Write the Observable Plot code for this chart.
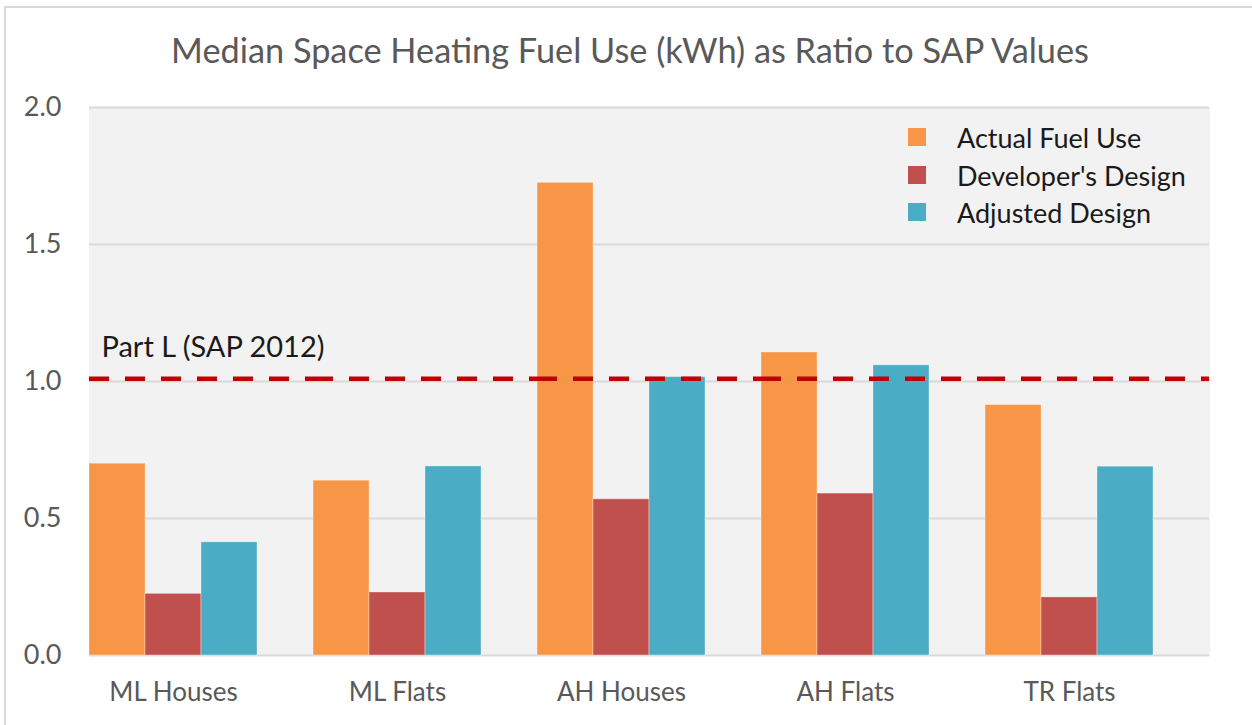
<!DOCTYPE html>
<html>
<head>
<meta charset="utf-8">
<script src="https://cdn.jsdelivr.net/npm/d3@7"></script>
<script src="https://cdn.jsdelivr.net/npm/@observablehq/plot@0.6"></script>
<style>
  html, body { margin: 0; padding: 0; background: #fff; }
  #chart { position: relative; width: 1252px; height: 725px; overflow: hidden; font-family: Lato, sans-serif; }
  #border { position: absolute; left: 4px; top: 6px; right: -10px; bottom: -10px; border-top: 2px solid #d9d9d9; border-left: 2px solid #d9d9d9; pointer-events: none; }
  #title { position: absolute; left: 0; width: 1260px; top: 33px; text-align: center; font-size: 34.3px; line-height: 34px; color: #595959; white-space: nowrap; }
  #legend { position: absolute; left: 908px; top: 128px; }
  .row { position: relative; height: 37.5px; }
  .sw { position: absolute; left: 0; top: 0; width: 18px; height: 18px; }
  .lab { position: absolute; left: 49px; top: -5px; font-size: 27px; line-height: 30px; color: #1a1a1a; white-space: nowrap; }
  svg { position: absolute; left: 0; top: 0; }
</style>
</head>
<body>
<div id="chart">
  <div id="border"></div>
</div>
<script>
const titleText = "Median Space Heating Fuel Use (kWh) as Ratio to SAP Values";
const categories = ["ML Houses", "ML Flats", "AH Houses", "AH Flats", "TR Flats"];
const series = ["Actual Fuel Use", "Developer's Design", "Adjusted Design"];
const actualFuelUse = [0.700, 0.638, 1.725, 1.106, 0.914];
const developersDesign = [0.225, 0.230, 0.570, 0.591, 0.212];
const adjustedDesign = [0.413, 0.690, 1.016, 1.059, 0.689];
const colors = ["#F79646", "#C0504D", "#4BACC6"];
const yTicks = [0, 0.5, 1.0, 1.5, 2.0];
const partLValue = 1.01;
const partLLabel = "Part L (SAP 2012)";

const seriesValues = [actualFuelUse, developersDesign, adjustedDesign];
const data = [];
categories.forEach((c, i) => {
  series.forEach((s, j) => data.push({category: c, series: s, value: seriesValues[j][i]}));
});

function build(useSuper) {
  const sup = useSuper ? {facet: "super"} : {};
  return Plot.plot({
    width: 1252,
    height: 725,
    marginLeft: 88,
    marginRight: 42,
    marginTop: 107,
    marginBottom: 70,
    style: {fontFamily: "Lato, sans-serif", fontSize: "27px", color: "#595959", background: "transparent", overflow: "visible"},
    fx: {domain: categories, paddingInner: 0, paddingOuter: 0, axis: null, label: null},
    x: {domain: series, paddingInner: 0, paddingOuter: 0.5, align: 0, axis: null, label: null},
    y: {domain: [0, 2], ticks: yTicks, tickFormat: d3.format(".1f"), tickSize: 0, tickPadding: 28, label: null},
    color: {domain: series, range: colors},
    marks: [
      Plot.frame({fill: "#f2f2f2", stroke: "#f2f2f2", strokeWidth: 1, ...sup}),
      Plot.ruleY(yTicks, {stroke: "#d9d9d9", strokeWidth: 2, ...sup}),
      Plot.barY(data, {fx: "category", x: "series", y: "value", fill: "series", stroke: "#ffffff", strokeOpacity: 0.35, strokeWidth: 1}),
      Plot.ruleY([partLValue], {stroke: "#C00000", strokeWidth: 4.5, strokeDasharray: "20,16", ...sup}),
      Plot.text([partLLabel], {fx: () => categories[0], frameAnchor: "left", y: () => partLValue, text: d => d, dx: 12, dy: -31, textAnchor: "start", fill: "#1a1a1a", fontSize: 29}),
      Plot.text(categories, {fx: d => d, x: () => series[1], frameAnchor: "bottom", text: d => d, dy: 45, fill: "#595959", fontSize: 26})
    ]
  });
}

let chart;
try { chart = build(true); } catch (e) { chart = build(false); }
const root = document.getElementById("chart");
root.appendChild(chart);

const t = document.createElement("div");
t.id = "title";
t.textContent = titleText;
root.appendChild(t);

const legend = d3.select(root).append("div").attr("id", "legend");
const rows = legend.selectAll("div.row").data(series).join("div").attr("class", "row");
rows.append("div").attr("class", "sw").style("background", (d, i) => colors[i]);
rows.append("div").attr("class", "lab").text(d => d);
</script>
</body>
</html>
